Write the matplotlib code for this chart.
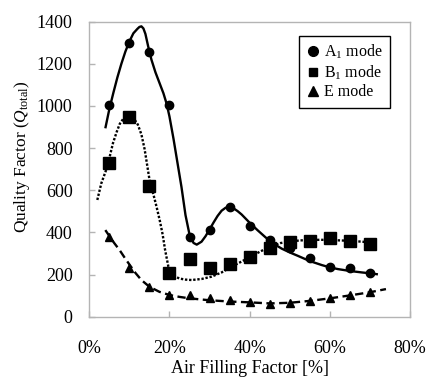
import matplotlib
matplotlib.use("Agg")
import matplotlib.pyplot as plt
from matplotlib.lines import Line2D

plt.rcParams['font.family'] = ['Liberation Serif', 'DejaVu Serif']
plt.rcParams['mathtext.fontset'] = 'custom'
plt.rcParams['mathtext.rm'] = 'Liberation Serif'
plt.rcParams['mathtext.it'] = 'Liberation Serif:italic'

# ---- measured points (air filling factor in fraction) ----
x_pts = [0.05, 0.10, 0.15, 0.20, 0.25, 0.30, 0.35, 0.40, 0.45, 0.50, 0.55, 0.60, 0.65, 0.70]
a1_pts = [1003, 1300, 1255, 1003, 378, 410, 521, 432, 364, 328, 277, 236, 230, 207]
b1_pts = [728, 949, 622, 206, 274, 232, 249, 282, 327, 356, 361, 375, 359, 347]
e_pts = [380, 232, 142, 103, 105, 87, 80, 72, 61, 65, 75, 87, 103, 117]

# ---- trend curves ----
a1_cx = [0.040, 0.050, 0.060, 0.070, 0.080, 0.090, 0.100, 0.110, 0.120, 0.125,
         0.130, 0.135, 0.140, 0.147, 0.155, 0.165, 0.175, 0.185, 0.193, 0.200,
         0.210, 0.220, 0.230, 0.240, 0.250, 0.260, 0.268, 0.280, 0.290, 0.300,
         0.310, 0.320, 0.330, 0.340, 0.350, 0.360, 0.370, 0.380, 0.400, 0.420,
         0.440, 0.460, 0.480, 0.500, 0.520, 0.550, 0.580, 0.600, 0.620, 0.650,
         0.680, 0.700, 0.720]
a1_cy = [894, 985, 1062, 1135, 1200, 1258, 1306, 1345, 1366, 1375,
         1378, 1368, 1342, 1282, 1220, 1160, 1110, 1060, 1010, 950,
         845, 730, 615, 482, 390, 350, 342, 356, 382, 414,
         447, 478, 503, 517, 521, 514, 501, 485, 446, 410,
         376, 346, 323, 305, 289, 264, 245, 234, 226, 217,
         210, 206, 201]

b1_cx = [0.020, 0.030, 0.042, 0.050, 0.059, 0.068, 0.076, 0.085, 0.095, 0.105,
         0.113, 0.121, 0.130, 0.138, 0.146, 0.151, 0.160, 0.168, 0.176, 0.183,
         0.189, 0.197, 0.205, 0.215, 0.225, 0.240, 0.255, 0.280, 0.305, 0.330,
         0.355, 0.380, 0.400, 0.426, 0.450, 0.476, 0.500, 0.526, 0.550, 0.576,
         0.600, 0.626, 0.650, 0.680, 0.717]
b1_cy = [554, 633, 696, 752, 823, 875, 915, 940, 951, 948,
         935, 912, 865, 795, 700, 640, 580, 520, 455, 390,
         318, 240, 205, 190, 181, 176, 174, 179, 190, 210,
         237, 262, 282, 309, 331, 349, 357, 362, 364, 365,
         364, 362, 360, 356, 350]

e_cx = [0.040, 0.050, 0.062, 0.076, 0.090, 0.100, 0.115, 0.130, 0.150, 0.175,
        0.200, 0.225, 0.250, 0.300, 0.350, 0.400, 0.450, 0.500, 0.550, 0.600,
        0.650, 0.700, 0.740]
e_cy = [411, 383, 350, 315, 275, 248, 208, 174, 142, 118,
        103, 94, 87, 78, 72, 68, 63, 66, 75, 87,
        101, 116, 131]

labels = ['A$_1$ mode', 'B$_1$ mode', 'E mode']
x_ticks = [0.0, 0.2, 0.4, 0.6, 0.8]
x_ticklabels = ['0%', '20%', '40%', '60%', '80%']
y_ticks = [0, 200, 400, 600, 800, 1000, 1200, 1400]

fig = plt.figure(figsize=(4.27, 3.80), dpi=100)
ax = fig.add_axes([0.2091, 0.1666, 0.7511, 0.7763])

lw = 1.7
ax.plot(a1_cx, a1_cy, color='black', lw=lw, solid_capstyle='butt',
        solid_joinstyle='round', zorder=2)
ax.plot(b1_cx, b1_cy, color='black', lw=lw, linestyle=(0, (1.0, 0.75)),
        dash_capstyle='butt', zorder=2)
ax.plot(e_cx, e_cy, color='black', lw=lw, linestyle=(0, (3.5, 1.9)),
        dash_capstyle='butt', zorder=2)

ax.plot(x_pts, a1_pts, 'o', color='black', ms=6, zorder=3)
ax.plot(x_pts, b1_pts, 's', color='black', ms=8, zorder=3)
ax.plot(x_pts, e_pts, '^', color='black', ms=6, zorder=3)

ax.set_xlim(0, 0.8)
ax.set_ylim(0, 1400)
ax.set_xticks(x_ticks)
ax.set_xticklabels(x_ticklabels)
ax.set_yticks(y_ticks)

grey = '#b4b4b4'
for s in ax.spines.values():
    s.set_color(grey)
    s.set_linewidth(1.0)
ax.tick_params(axis='both', direction='in', length=4, width=1.0, color=grey,
               labelsize=13, labelcolor='black')
ax.tick_params(axis='x', pad=17)
ax.tick_params(axis='y', pad=12)

ax.set_xlabel('Air Filling Factor [%]', fontsize=13, labelpad=2)
ax.set_ylabel('Quality Factor ($Q_{\\mathrm{total}}$)', fontsize=12.5)
ax.yaxis.set_label_coords(-0.179, 0.541)

handles = [
    Line2D([], [], marker='o', ls='none', color='black', ms=7),
    Line2D([], [], marker='s', ls='none', color='black', ms=6),
    Line2D([], [], marker='^', ls='none', color='black', ms=7),
]
leg = ax.legend(handles, labels, loc='upper right', bbox_to_anchor=(0.9376, 0.9525),
                fontsize=11.5, frameon=True, fancybox=False, framealpha=1,
                edgecolor='black', handlelength=0.8, handletextpad=0.3,
                borderpad=0.45, labelspacing=0.15, borderaxespad=0.0)
leg.get_frame().set_linewidth(1.0)

fig.savefig('out.png', dpi=100)
